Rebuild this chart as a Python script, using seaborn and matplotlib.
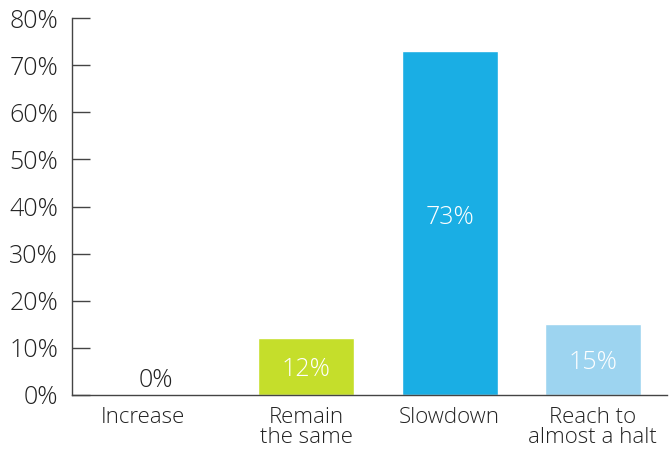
import matplotlib
matplotlib.use("Agg")
import matplotlib.pyplot as plt
import matplotlib.transforms as mtransforms
import seaborn as sns
import pandas as pd

categories = ["Increase", "Remain\nthe same", "Slowdown", "Reach to\nalmost a halt"]
values = [0, 12, 73, 15]
colors = ["#C5DE2B", "#C5DE2B", "#1AAEE4", "#9DD4F0"]
yticks = [0, 10, 20, 30, 40, 50, 60, 70, 80]

sns.set_style("white")
plt.rcParams["font.family"] = ["Open Sans", "DejaVu Sans"]

df = pd.DataFrame({"category": categories, "value": values})

fig = plt.figure(figsize=(6.69, 4.54), dpi=100)
ax = fig.add_axes([0.1076, 0.13, 0.89, 0.83])

sns.barplot(data=df, x="category", y="value", hue="category", palette=colors,
            legend=False, width=0.67, saturation=1, ax=ax)

ax.set_ylim(0, 80)
ax.set_xlim(-0.636, 3.52)
ax.set_yticks(yticks)
ax.set_yticklabels([f"{t}%" for t in yticks], fontsize=18, color="#222222", fontweight="light")
ax.set_xticks(range(len(categories)))
ax.set_xticklabels(categories, fontsize=16, color="#222222", fontweight="light", linespacing=0.88)
ax.set_xlabel("")
ax.set_ylabel("")

ax.tick_params(axis="y", left=True, direction="in", length=13, width=1, color="#444444", pad=10)
ax.tick_params(axis="x", bottom=False, length=0, pad=9)

# the first category label sits a little left of its slot
first = ax.get_xticklabels()[0]
first.set_transform(first.get_transform() +
                    mtransforms.ScaledTranslation(-0.2, 0, fig.dpi_scale_trans))

for side in ["top", "right"]:
    ax.spines[side].set_visible(False)
for side in ["left", "bottom"]:
    ax.spines[side].set_color("#444444")
    ax.spines[side].set_linewidth(1)

for i, v in enumerate(values):
    if v == 0:
        ax.text(i - 0.05, 0.4, f"{v}%", ha="center", va="bottom", fontsize=18,
                color="#222222", fontweight="light")
    else:
        ax.text(i, v * 0.53 - 1, f"{v}%", ha="center", va="center", fontsize=18,
                color="white", fontweight="light")

fig.savefig("out.png", dpi=100)
